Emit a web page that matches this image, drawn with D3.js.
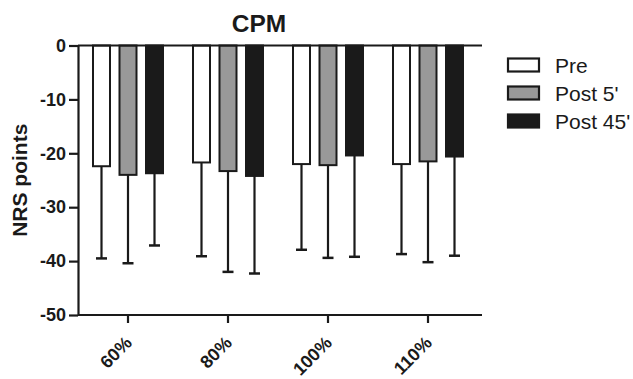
<!DOCTYPE html>
<html><head><meta charset="utf-8">
<script src="https://cdn.jsdelivr.net/npm/d3@7"></script>
<style>body{margin:0;background:#fff}svg{display:block}text{font-family:"Liberation Sans",Arial,sans-serif;fill:#1a1a1a}</style>
</head><body><svg id="c" width="633" height="379"></svg>
<script>
const categories = ["60%", "80%", "100%", "110%"];
const seriesNames = ["Pre", "Post 5'", "Post 45'"];
const preMean = [-22.4, -21.7, -22.0, -22.0];
const post5Mean = [-24.0, -23.3, -22.2, -21.5];
const post45Mean = [-23.7, -24.2, -20.4, -20.6];
const preSD = [17.1, 17.4, 15.9, 16.7];
const post5SD = [16.4, 18.7, 17.2, 18.7];
const post45SD = [13.4, 18.1, 18.8, 18.4];
const yTicks = [0, -10, -20, -30, -40, -50];
const fills = ["#ffffff", "#999999", "#1a1a1a"];
const ink = "#1a1a1a";

const means = [preMean, post5Mean, post45Mean];
const sds = [preSD, post5SD, post45SD];
const data = [];
categories.forEach((c, i) => seriesNames.forEach((s, j) => data.push({cat: c, ser: s, j, mean: means[j][i], sd: sds[j][i]})));

const svg = d3.select("#c");
const mL = 78, mR = 478, mT = 45.5, mB = 315;
const x0 = d3.scaleBand().domain(categories).range([mL, mR]).padding(0);
const x1 = d3.scaleBand().domain(seriesNames).range([0, x0.bandwidth()]).paddingInner(0.3585).paddingOuter(0.566);
const y = d3.scaleLinear().domain([-50, 0]).range([mB, mT]);

// bars
const g = svg.append("g");
g.selectAll("rect.bar").data(data).join("rect")
  .attr("x", d => x0(d.cat) + x1(d.ser))
  .attr("y", y(0))
  .attr("width", x1.bandwidth())
  .attr("height", d => y(d.mean) - y(0))
  .attr("fill", d => fills[d.j])
  .attr("stroke", ink).attr("stroke-width", 2);

// error bars (downward only)
const eb = g.selectAll("g.eb").data(data).join("g")
  .attr("transform", d => `translate(${x0(d.cat) + x1(d.ser) + x1.bandwidth()/2},0)`);
eb.append("line").attr("x1", 0).attr("x2", 0)
  .attr("y1", d => y(d.mean)).attr("y2", d => y(d.mean - d.sd))
  .attr("stroke", ink).attr("stroke-width", 2.2);
eb.append("line").attr("x1", -5.5).attr("x2", 5.5)
  .attr("y1", d => y(d.mean - d.sd)).attr("y2", d => y(d.mean - d.sd))
  .attr("stroke", ink).attr("stroke-width", 2.5);

// zero line
svg.append("line").attr("x1", mL).attr("x2", mR + 4).attr("y1", y(0)).attr("y2", y(0))
  .attr("stroke", ink).attr("stroke-width", 2.2);

// y axis
const ya = svg.append("g").attr("transform", `translate(${mL},0)`)
  .call(d3.axisLeft(y).tickValues(yTicks).tickFormat(d => String(d)).tickSize(9).tickSizeOuter(0).tickPadding(3));
ya.select(".domain").attr("stroke", ink).attr("stroke-width", 2.2);
ya.selectAll(".tick line").attr("stroke", ink).attr("stroke-width", 2.2);
ya.selectAll(".tick text").attr("font-size", 18).attr("font-weight", "bold")
  .attr("font-family", "'Liberation Sans',Arial,sans-serif").attr("fill", ink);

// x axis
const xa = svg.append("g").attr("transform", `translate(0,${mB})`)
  .call(d3.axisBottom(x0).tickSize(8).tickSizeOuter(0));
xa.select(".domain").remove();
xa.append("line").attr("x1", mL).attr("x2", mR + 4).attr("stroke", ink).attr("stroke-width", 2.2);
xa.selectAll(".tick line").attr("stroke", ink).attr("stroke-width", 2.2);
xa.selectAll(".tick text").attr("font-size", 18).attr("font-weight", "bold")
  .attr("font-family", "'Liberation Sans',Arial,sans-serif").attr("fill", ink)
  .attr("text-anchor", "end").attr("dy", null).attr("y", 0)
  .attr("transform", "translate(5,29) rotate(-45)");

// title
svg.append("text").attr("x", 259).attr("y", 31.5).attr("text-anchor", "middle")
  .attr("font-size", 24.5).attr("font-weight", "bold").text("CPM");

// y label
svg.append("text").attr("transform", `translate(27,${(mT + mB)/2}) rotate(-90)`)
  .attr("text-anchor", "middle").attr("font-size", 21).attr("font-weight", "bold").text("NRS points");

// legend
const lg = svg.append("g").selectAll("g").data(seriesNames).join("g")
  .attr("transform", (d, i) => `translate(508,${65 + i * 28})`);
lg.append("rect").attr("x", 0).attr("y", -6.5).attr("width", 31).attr("height", 13)
  .attr("fill", (d, i) => fills[i]).attr("stroke", ink).attr("stroke-width", 2.2);
lg.append("text").attr("x", 47).attr("y", 7.5).attr("font-size", 21).text(d => d);
</script></body></html>
